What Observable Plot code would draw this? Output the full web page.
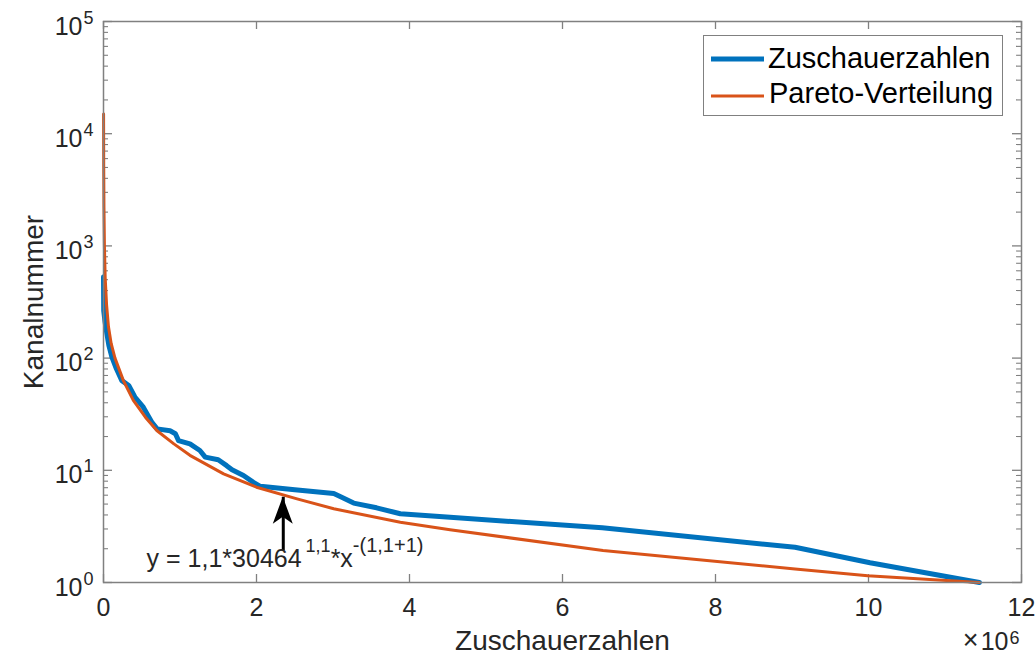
<!DOCTYPE html>
<html>
<head>
<meta charset="utf-8">
<script src="https://cdn.jsdelivr.net/npm/d3@7"></script>
<script src="https://cdn.jsdelivr.net/npm/@observablehq/plot@0.6"></script>
<style>
  body { margin: 0; background: #fff; }
  #wrap { position: relative; width: 1035px; height: 655px; font-family: "Liberation Sans", Arial, Helvetica, sans-serif; color: #262626; }
  #legend { position: absolute; left: 703px; top: 35px; width: 300px; height: 81px; border: 1.5px solid #808080; background: #fff; box-sizing: border-box; }
</style>
</head>
<body>
<div id="wrap"></div>
<script>
// ---- data (x values in units of 10^6 viewers) ----
const viewersObserved = [0, 0.003, 0.02, 0.044, 0.07, 0.11, 0.17, 0.24, 0.33, 0.41, 0.52, 0.57, 0.63, 0.70, 0.87, 0.94, 0.98, 1.13, 1.26, 1.33, 1.50, 1.61, 1.68, 1.83, 1.96, 2.05, 2.5, 3.01, 3.1, 3.27, 3.57, 3.88, 4.53, 6.52, 9.04, 10.02, 11.45];
const channelObserved = [530, 265, 210, 165, 130, 102, 80, 63, 57, 45, 36.5, 31.8, 27, 23.4, 22.5, 21.2, 18.4, 17.2, 15.0, 13.1, 12.4, 11.0, 10.1, 9.0, 7.8, 7.2, 6.7, 6.2, 5.8, 5.1, 4.63, 4.1, 3.82, 3.07, 2.06, 1.5, 1.0];
const viewersPareto = [0.001, 0.003, 0.006, 0.012, 0.022, 0.04, 0.065, 0.1, 0.15, 0.26, 0.39, 0.55, 0.70, 0.92, 1.13, 1.57, 2.0, 2.53, 3.01, 3.88, 4.53, 6.53, 9.04, 9.99, 11.45];
const channelPareto = [15000, 5000, 2200, 1000, 520, 300, 190, 135, 100, 63, 42, 29.6, 22.5, 17.2, 13.6, 9.3, 7.07, 5.56, 4.54, 3.45, 2.95, 1.93, 1.32, 1.15, 1.0];
const seriesNames = ["Zuschauerzahlen", "Pareto-Verteilung"];
const seriesColors = ["#0072BD", "#D95319"];
const xTicks = [0, 2, 4, 6, 8, 10, 12];
const yTicks = [1, 10, 100, 1000, 10000, 100000];
const yMinor = [1, 10, 100, 1000, 10000].flatMap(d => [2, 3, 4, 5, 6, 7, 8, 9].map(k => k * d));
const xLabel = "Zuschauerzahlen";
const yLabel = "Kanalnummer";
const arrowX = 2.35, arrowFromY = 2.45, arrowToY = 5.75;
const noteX = 0.57, noteY = 1.36;

const observed = viewersObserved.map((x, i) => ({x, y: channelObserved[i]}));
const pareto = viewersPareto.map((x, i) => ({x, y: channelPareto[i]}));

const W = 1035, H = 655, mL = 103, mR = 14, mT = 21, mB = 73;
const fw = W - mL - mR, fh = H - mT - mB;
const axisColor = "#808080";
const textColor = "#262626";
const font = '"Liberation Sans", Arial, Helvetica, sans-serif';

const chart = Plot.plot({
  width: W, height: H,
  marginLeft: mL, marginRight: mR, marginTop: mT, marginBottom: mB,
  style: {fontFamily: font, color: textColor, background: "white", overflow: "visible"},
  x: {domain: [0, 12], axis: null},
  y: {type: "log", domain: [1, 1e5], axis: null},
  marks: [
    Plot.tickX(xTicks, {x: d => d, stroke: axisColor, strokeWidth: 1.3, insetTop: fh - 8}),
    Plot.tickX(xTicks, {x: d => d, stroke: axisColor, strokeWidth: 1.3, insetBottom: fh - 8}),
    Plot.tickY(yTicks, {y: d => d, stroke: axisColor, strokeWidth: 1.3, insetRight: fw - 9}),
    Plot.tickY(yTicks, {y: d => d, stroke: axisColor, strokeWidth: 1.3, insetLeft: fw - 9}),
    Plot.tickY(yMinor, {y: d => d, stroke: axisColor, strokeWidth: 1.1, insetRight: fw - 5}),
    Plot.tickY(yMinor, {y: d => d, stroke: axisColor, strokeWidth: 1.1, insetLeft: fw - 5}),
    Plot.line(observed, {x: "x", y: "y", stroke: seriesColors[0], strokeWidth: 5, strokeLinejoin: "round"}),
    Plot.line(pareto, {x: "x", y: "y", stroke: seriesColors[1], strokeWidth: 3, strokeLinejoin: "round"}),
    Plot.frame({stroke: axisColor, strokeWidth: 1.5}),
    // x tick labels
    Plot.text(xTicks, {x: d => d, frameAnchor: "bottom", text: d => String(d), lineAnchor: "bottom", dy: 33, fontSize: 25, fill: textColor}),
    // y tick labels 10^n
    Plot.text(yTicks, {y: d => d, frameAnchor: "left", text: () => "10", textAnchor: "end", lineAnchor: "bottom", dx: -21, dy: 13, fontSize: 25, fill: textColor}),
    Plot.text(yTicks, {y: d => d, frameAnchor: "left", text: d => String(Math.round(Math.log10(d))), textAnchor: "start", lineAnchor: "bottom", dx: -20, dy: 2, fontSize: 18, fill: textColor}),
    // axis labels
    Plot.text([xLabel], {frameAnchor: "bottom", text: d => d, textAnchor: "middle", lineAnchor: "bottom", dy: 67, fontSize: 28, fill: textColor}),
    Plot.text([yLabel], {frameAnchor: "left", text: d => d, rotate: -90, textAnchor: "middle", lineAnchor: "bottom", dx: -61, fontSize: 28, fill: textColor}),
    // exponent multiplier
    Plot.text(["\u00d7"], {frameAnchor: "bottom-right", text: d => d, textAnchor: "end", lineAnchor: "bottom", dx: -43, dy: 66, fontSize: 27, fill: textColor}),
    Plot.text(["10"], {frameAnchor: "bottom-right", text: d => d, textAnchor: "end", lineAnchor: "bottom", dx: -13, dy: 67, fontSize: 25, fill: textColor}),
    Plot.text(["6"], {frameAnchor: "bottom-right", text: d => d, textAnchor: "start", lineAnchor: "bottom", dx: -12, dy: 61, fontSize: 18, fill: textColor}),
    // arrow shaft
    Plot.ruleX([arrowX], {x: d => d, y1: arrowFromY, y2: arrowToY, stroke: "black", strokeWidth: 3, insetTop: 12})
  ]
});

const sx = chart.scale("x"), sy = chart.scale("y");
const svg = d3.select(chart);
// filled arrow head at tip
const tx = sx.apply(arrowX), ty = sy.apply(arrowToY);
svg.append("path")
  .attr("d", `M${tx},${ty} L${tx - 10},${ty + 27} L${tx},${ty + 20} L${tx + 10},${ty + 27} Z`)
  .attr("fill", "black");
// formula annotation
const note = svg.append("text")
  .attr("x", sx.apply(noteX)).attr("y", sy.apply(noteY))
  .attr("text-anchor", "start")
  .attr("font-family", font).attr("font-size", 25).attr("fill", textColor);
note.append("tspan").text("y = 1,1*30464");
note.append("tspan").attr("font-size", 18).attr("dx", 4).attr("dy", -15).text("1,1");
note.append("tspan").attr("font-size", 25).attr("dy", 15).text("*x");
note.append("tspan").attr("font-size", 20).attr("dy", -15).text("-(1,1+1)");

const wrap = document.getElementById("wrap");
wrap.appendChild(chart);

// legend
const legend = document.createElement("div");
legend.id = "legend";
legend.innerHTML = `<svg width="300" height="81" style="position:absolute;left:0;top:0;font-family:${font.replace(/"/g, "'")}">
  <line x1="7" x2="60" y1="23" y2="23" stroke="${seriesColors[0]}" stroke-width="5"/>
  <text x="64" y="32" font-size="29" fill="#000">${seriesNames[0]}</text>
  <line x1="7" x2="60" y1="60" y2="60" stroke="${seriesColors[1]}" stroke-width="3"/>
  <text x="65" y="67" font-size="29" fill="#000">${seriesNames[1]}</text>
</svg>`;
wrap.appendChild(legend);
</script>
</body>
</html>
